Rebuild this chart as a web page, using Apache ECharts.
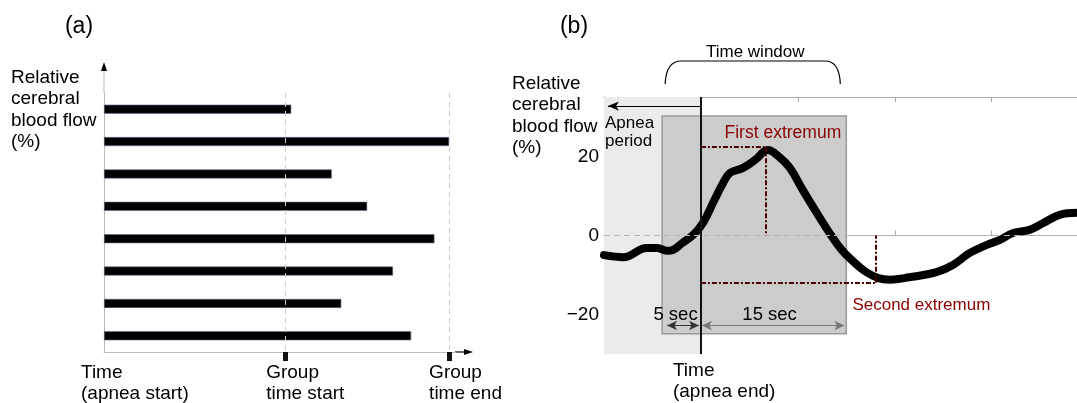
<!DOCTYPE html>
<html>
<head>
<meta charset="utf-8">
<script src="https://cdn.jsdelivr.net/npm/echarts@6/dist/echarts.min.js"></script>
<style>
  html, body { margin: 0; padding: 0; background: #fff; }
  #main { width: 1077px; height: 403px; }
</style>
</head>
<body>
<div id="main"></div>
<script>
  // ---- panel (a): trials, ending times (apnea start = 0)
  const trials = ['1', '2', '3', '4', '5', '6', '7', '8'];
  const trialEnds = [21.7, 40, 26.4, 30.5, 38.3, 33.5, 27.5, 35.6];
  const groupTimes = [21, 40];   // group time start, group time end
  const groupLabels = ['Group\ntime start', 'Group\ntime end'];

  // ---- panel (b): relative cerebral blood flow (%) vs time (s, apnea end = 0)
  const timeSec = [-10, -8, -5.6, -4.5, -3.5, -2.9, -1.9, -0.8, 0.2, 1.4, 2.3, 3.0, 4.3, 5.6, 6.9,
    8.1, 9.2, 10.5, 12.0, 13.3, 14.5, 15.8, 17.0, 18.3, 19.5, 21.5, 24.3, 26.0, 27.7, 29.5, 30.8,
    32.2, 33.9, 35.3, 37.0, 38.8];
  const flowPct = [-5.0, -5.5, -3.2, -3.2, -3.9, -3.7, -1.9, 0.1, 3.1, 9.0, 13.3, 15.8, 17.0, 19.1, 21.6,
    19.8, 17.0, 11.5, 5.5, 0.5, -3.6, -6.8, -9.2, -10.8, -11.2, -10.6, -9.3, -7.5, -4.5, -2.4, -1.2,
    0.6, 1.4, 3.1, 5.2, 5.7];
  const yTicks = [-20, 0, 20];
  const windowBox = [[-4, 30.2], [15, -24.9]];   // time window (shaded box)
  const firstExt = [6.7, 22.3];
  const secondExt = [18.0, -12.0];
  const arrowY = -22.8;
  const fiveSec = [-3.5, -0.2];
  const fifteenSec = [0.1, 14.8];
  const apneaArrow = [0, -9.6, 32.7];

  const font = 'Liberation Sans';
  const chart = echarts.init(document.getElementById('main'));

  const extLine = { color: '#4a0000', width: 2, type: [5, 2, 2, 2] };
  const arrowLine = { color: '#333', width: 1, type: 'solid' };

  const option = {
    animation: false,
    backgroundColor: '#fff',
    grid: [
      { left: 104, top: 93, width: 352, height: 259 },
      { left: 604, top: 97, width: 473, height: 257 }
    ],
    xAxis: [
      {
        gridIndex: 0, type: 'value', min: 0, max: 40.8,
        axisLine: { show: true, lineStyle: { color: '#bbbbbb', width: 1 } },
        axisTick: { show: true, customValues: groupTimes, length: 9, lineStyle: { color: '#111', width: 5 } },
        axisLabel: { show: false },
        splitLine: { show: false }
      },
      {
        gridIndex: 1, type: 'value', min: -10, max: 38.8, interval: 10, position: 'bottom',
        axisLine: { show: true, lineStyle: { color: '#aaaaaa', width: 1 } },
        axisTick: { show: true, inside: true, length: 5, lineStyle: { color: '#aaaaaa' } },
        axisLabel: { show: false },
        splitLine: { show: false }
      },
      {
        gridIndex: 1, type: 'value', min: -10, max: 38.8, interval: 10, position: 'top',
        axisLine: { show: true, onZero: false, lineStyle: { color: '#aaaaaa', width: 1 } },
        axisTick: { show: true, inside: true, length: 5, lineStyle: { color: '#aaaaaa' } },
        axisLabel: { show: false },
        splitLine: { show: false }
      }
    ],
    yAxis: [
      {
        gridIndex: 0, type: 'category', data: trials, inverse: true,
        axisLine: { show: true, lineStyle: { color: '#bbbbbb', width: 1 } },
        axisTick: { show: false },
        axisLabel: { show: false },
        splitLine: { show: false }
      },
      {
        gridIndex: 1, type: 'value', min: -30, max: 35, interval: 10,
        axisLine: { show: true, onZero: false, lineStyle: { color: '#aaaaaa', width: 1 } },
        axisTick: { show: false },
        axisLabel: {
          fontSize: 19, fontFamily: font, color: '#000', margin: 5,
          formatter: function (v) {
            if (yTicks.indexOf(v) < 0) return '';
            return v < 0 ? '\u2212' + Math.abs(v) : String(v);
          }
        },
        splitLine: { show: false }
      }
    ],
    series: [
      {
        type: 'bar', xAxisIndex: 0, yAxisIndex: 0,
        data: trialEnds, barWidth: 9, z: 3,
        itemStyle: { color: '#000', borderColor: '#5b6b88', borderWidth: 0.6 },
        markLine: {
          silent: true, symbol: ['none', 'none'], label: { show: false },
          lineStyle: { color: '#cccccc', width: 1, type: [5, 4] },
          data: groupTimes.map(function (t) { return { xAxis: t }; })
        }
      },
      {
        // shaded areas
        type: 'line', xAxisIndex: 1, yAxisIndex: 1, z: 1, silent: true,
        data: timeSec.map(function (t, i) { return [t, flowPct[i]]; }),
        showSymbol: false, lineStyle: { opacity: 0 },
        markArea: {
          silent: true,
          data: [
            [{ xAxis: -10, itemStyle: { color: '#ebebeb' } }, { xAxis: 0 }],
            [{ coord: windowBox[0], itemStyle: { color: '#cccccc', borderColor: '#999999', borderWidth: 1.5 } },
             { coord: windowBox[1] }]
          ]
        }
      },
      {
        // annotation lines
        type: 'line', xAxisIndex: 1, yAxisIndex: 1, z: 2, silent: true,
        data: timeSec.map(function (t, i) { return [t, flowPct[i]]; }),
        showSymbol: false, lineStyle: { opacity: 0 },
        markLine: {
          silent: true, symbol: ['none', 'none'], label: { show: false },
          data: [
            { yAxis: 0, lineStyle: { color: '#b5b5b5', width: 1, type: [6, 4] } },
            { xAxis: 0, lineStyle: { color: '#111', width: 2, type: 'solid' } },
            [{ coord: [0, firstExt[1]], lineStyle: extLine }, { coord: firstExt }],
            [{ coord: firstExt, lineStyle: extLine }, { coord: [firstExt[0], 0] }],
            [{ coord: [0, secondExt[1]], lineStyle: extLine }, { coord: secondExt }],
            [{ coord: secondExt, lineStyle: extLine }, { coord: [secondExt[0], 0] }],
            [{ coord: [apneaArrow[0], apneaArrow[2]], lineStyle: { color: '#000', width: 1, type: 'solid' } },
             { coord: [apneaArrow[1], apneaArrow[2]], symbol: 'arrow', symbolSize: [7, 11] }],
            [{ coord: [fiveSec[0], arrowY], symbol: 'arrow', symbolSize: [7, 10], lineStyle: arrowLine },
             { coord: [fiveSec[1], arrowY], symbol: 'arrow', symbolSize: [7, 10] }],
            [{ coord: [fifteenSec[0], arrowY], symbol: 'arrow', symbolSize: [7, 10], lineStyle: { color: '#777', width: 1, type: 'solid' } },
             { coord: [fifteenSec[1], arrowY], symbol: 'arrow', symbolSize: [7, 10] }]
          ]
        }
      },
      {
        name: 'flow', type: 'line', xAxisIndex: 1, yAxisIndex: 1, z: 4,
        data: timeSec.map(function (t, i) { return [t, flowPct[i]]; }),
        smooth: 0.4, showSymbol: false, clip: true,
        lineStyle: { color: '#000', width: 8, cap: 'round', join: 'round' }
      }
    ]
  };
  chart.setOption(option);

  // ---- texts and decorations anchored to axis positions
  const px = function (g, x, y) { return chart.convertToPixel({ gridIndex: g }, [x, y]); };
  function txt(text, x, y, size, opts) {
    opts = opts || {};
    return {
      type: 'text', x: x, y: y, silent: true, z: 10,
      style: {
        text: text, fontSize: size, fontFamily: font, fill: opts.fill || '#000',
        align: opts.align || 'left', verticalAlign: opts.va || 'top',
        lineHeight: opts.lh || Math.round(size * 1.13)
      }
    };
  }

  const a0 = px(0, 0, 0)[0];
  const aStart = px(0, groupTimes[0], 0)[0];
  const aEnd = px(0, groupTimes[1], 0)[0];
  const aRight = px(0, 40.8, 0)[0];
  const aBottom = 352;
  const bZero = px(1, 0, 0);
  const bLeft = px(1, -10, 0)[0];
  const boxL = px(1, windowBox[0][0], windowBox[0][1]);
  const boxR = px(1, windowBox[1][0], windowBox[1][1]);
  const f1 = px(1, firstExt[0], firstExt[1]);
  const f2 = px(1, secondExt[0], secondExt[1]);
  const ar = px(1, 0, arrowY);

  // bracket over the time window
  const bl = boxL[0] + 3, br = boxR[0] - 6, bTop = 61, bBot = 84;
  const stroke = { stroke: '#000', lineWidth: 1.2, fill: null };

  const graphics = [
    txt('(a)', 79, 27, 23, { align: 'center', va: 'middle' }),
    txt('(b)', 574, 27, 23, { align: 'center', va: 'middle' }),
    txt('Relative\ncerebral\nblood flow\n(%)', 11, 67, 19, { lh: 21.5 }),
    txt('Relative\ncerebral\nblood flow\n(%)', 512, 73, 19, { lh: 21.5 }),
    txt('Time\n(apnea start)', a0 - 23, 362, 19, { lh: 21 }),
    txt(groupLabels[0], aStart - 19, 362, 19, { lh: 21 }),
    txt(groupLabels[1], aEnd - 20, 362, 19, { lh: 21 }),
    // y axis extension + arrow (a)
    { type: 'line', silent: true, shape: { x1: a0, y1: 93, x2: a0, y2: 69 }, style: { stroke: '#bbbbbb', lineWidth: 1 } },
    { type: 'polygon', silent: true, shape: { points: [[a0 - 3, 71], [a0, 62], [a0 + 3, 71]] }, style: { fill: '#000' } },
    // x axis arrow (a)
    { type: 'line', silent: true, shape: { x1: aRight - 1, y1: aBottom, x2: aRight + 10, y2: aBottom }, style: { stroke: '#000', lineWidth: 1.2 } },
    { type: 'polygon', silent: true, shape: { points: [[aRight + 8, aBottom - 3], [aRight + 17, aBottom], [aRight + 8, aBottom + 3]] }, style: { fill: '#000' } },
    // panel (b) texts
    txt('Apnea\nperiod', bLeft + 1, 114.5, 17, { lh: 18 }),
    txt('First extremum', f1[0] + 17, 123, 17.5, { fill: '#8b0000', align: 'center', lh: 20 }),
    txt('Second extremum', f2[0] - 23, 295.5, 17, { fill: '#8b0000', lh: 20 }),
    txt('5 sec', (boxL[0] + bZero[0]) / 2 - 6, ar[1] - 21, 18.5, { align: 'center', lh: 20 }),
    txt('15 sec', (bZero[0] + boxR[0]) / 2 - 4, ar[1] - 21, 18.5, { align: 'center', lh: 20 }),
    txt('Time\n(apnea end)', bZero[0] - 28, 360, 19, { lh: 21 }),
    txt('Time window', (boxL[0] + boxR[0]) / 2 + 1, 42.5, 17, { align: 'center', lh: 20 }),
    { type: 'bezierCurve', silent: true, shape: { x1: bl, y1: bBot, cpx1: bl + 1, cpy1: bTop, x2: bl + 16, y2: bTop }, style: stroke },
    { type: 'line', silent: true, shape: { x1: bl + 16, y1: bTop, x2: br - 15, y2: bTop }, style: stroke },
    { type: 'bezierCurve', silent: true, shape: { x1: br - 15, y1: bTop, cpx1: br - 1, cpy1: bTop, x2: br, y2: bBot }, style: stroke }
  ];
  chart.setOption({ graphic: graphics });
</script>
</body>
</html>
